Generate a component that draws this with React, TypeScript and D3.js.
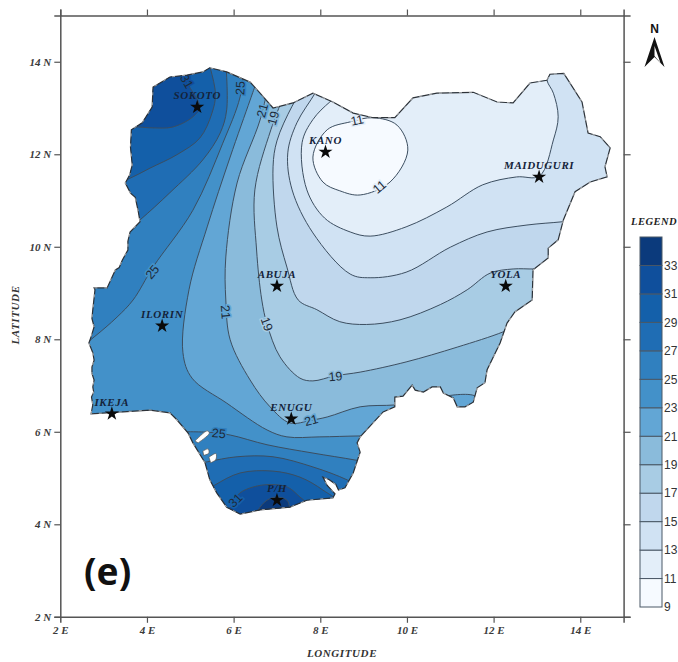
import { useEffect, useRef } from 'react';
import * as d3 from 'd3';

type Pt = [number, number];

const lonTicks = [2, 4, 6, 8, 10, 12, 14];
const latTicks = [2, 4, 6, 8, 10, 12, 14];
const legendTicks = [9, 11, 13, 15, 17, 19, 21, 23, 25, 27, 29, 31, 33];

// band colours, from the 9-11 band up to 33-35
const bandColors = ['#f6faff', '#e3eef9', '#d0e2f3', '#c0d7ed', '#a8cce4', '#8abbdb', '#62a6d5', '#4391c9', '#3080bf', '#1f6db4', '#1460aa', '#0f4f9c', '#0b3a7c'];
const bandOf = (v: number) => bandColors[Math.floor((v - 9) / 2)];

const border: Pt[] = [
  [2.71, 6.39], [2.75, 6.58], [2.72, 6.75], [2.77, 6.86], [2.75, 6.97], [2.78, 7.12], [2.73, 7.26], [2.73, 7.4], [2.78, 7.55], [2.75, 7.71], [2.66, 7.92], [2.72, 8.08], [2.78, 8.27], [2.73, 8.45], [2.75, 8.64], [2.8, 9.07], [2.78, 9.11],
  [3.08, 9.11], [3.27, 9.5], [3.36, 9.55], [3.43, 9.71], [3.56, 9.93], [3.56, 10.12], [3.61, 10.32], [3.84, 10.54], [3.8, 10.76], [3.73, 11.07], [3.62, 11.16], [3.5, 11.38], [3.6, 11.55], [3.66, 11.77], [3.62, 12.15], [3.64, 12.53], [3.89, 12.68],
  [4.12, 13.02], [4.14, 13.45], [4.53, 13.67], [4.92, 13.71], [5.29, 13.78], [5.45, 13.87], [5.84, 13.78], [6.38, 13.56], [6.61, 13.32], [6.91, 13.0],
  [7.37, 13.11], [7.83, 13.32], [8.29, 13.13], [8.76, 12.89], [9.22, 12.79], [9.72, 12.79], [10.14, 13.22], [10.69, 13.32], [11.53, 13.34], [12.08, 13.13],
  [12.45, 13.11], [12.84, 13.54], [13.23, 13.6], [13.3, 13.73], [13.62, 13.75], [14.04, 13.13], [14.18, 12.46], [14.46, 12.38], [14.69, 12.14], [14.57, 11.73],
  [14.62, 11.51], [14.23, 11.4], [13.88, 11.19], [13.61, 10.58], [13.49, 10.15], [13.26, 9.97], [13.26, 9.76], [12.91, 9.5], [12.89, 8.85], [12.49, 8.59],
  [12.31, 8.35], [12.15, 7.92], [11.85, 7.34], [11.8, 7.06], [11.62, 6.95], [11.53, 6.64], [11.34, 6.54], [11.16, 6.54], [11.07, 6.73], [10.84, 6.84],
  [10.77, 6.97], [10.58, 6.97], [10.38, 6.86], [10.19, 6.9], [10.12, 7.01], [9.91, 6.77], [9.72, 6.75], [9.72, 6.54], [9.45, 6.43], [8.92, 5.89], [8.85, 5.76],
  [8.92, 5.56], [8.76, 5.11], [8.57, 4.79], [8.42, 4.74], [8.36, 4.86], [8.2, 4.97], [8.06, 5.02], [8.16, 4.84], [8.34, 4.66], [8.29, 4.57], [7.69, 4.52], [7.3, 4.37], [6.61, 4.31], [6.15, 4.22], [5.84, 4.37], [5.61, 4.68], [5.45, 4.96],
  [5.34, 5.33], [5.06, 5.76], [4.95, 5.97], [4.69, 6.26], [4.53, 6.41], [4.07, 6.47], [3.45, 6.43],
];

// creeks that cut into the coast
const creeks: Pt[][] = [
  [[5.11, 5.8], [5.39, 6.02], [5.44, 5.97], [5.18, 5.76]],
  [[5.29, 5.58], [5.41, 5.63], [5.43, 5.54], [5.31, 5.49]],
  [[5.43, 5.45], [5.59, 5.53], [5.59, 5.4], [5.47, 5.33]],
];

// isolines, each runs past the border so it can be closed outside the country
const line23: Pt[] = [[6.5, 13.49], [6.38, 13.17], [5.92, 11.94], [5.39, 10.43], [4.97, 9.07], [4.83, 7.71], [5.04, 7.16], [5.84, 6.62], [6.77, 6.04], [7.23, 5.89], [7.99, 5.89], [8.92, 5.91], [9.84, 5.91]];
const line21: Pt[] = [[6.8, 13.49], [6.61, 12.74], [6.08, 11.38], [5.82, 9.78], [5.82, 8.85], [5.92, 7.99], [6.38, 7.12], [6.84, 6.54], [7.3, 6.19], [7.79, 6.25], [8.16, 6.32], [8.92, 6.54], [9.72, 6.58], [10.19, 6.64]];
const line19: Pt[] = [[7.19, 13.34], [6.86, 12.53], [6.49, 11.23], [6.53, 9.93], [6.65, 8.85], [6.77, 8.33], [7.07, 7.62], [7.53, 7.16], [7.83, 7.1], [8.34, 7.21], [8.92, 7.29], [9.98, 7.51], [11.16, 7.83], [12.22, 8.16], [12.72, 8.38]];
const line17: Pt[] = [[7.65, 13.49], [7.35, 13.04], [7.0, 12.29], [6.91, 11.73], [7.0, 10.43], [7.23, 9.56], [7.49, 8.85], [7.92, 8.64], [8.45, 8.38], [9.07, 8.32], [9.84, 8.42], [10.77, 8.75], [11.39, 9.07], [11.92, 9.43], [12.45, 9.52], [12.94, 9.52], [13.42, 9.54]];
const line15: Pt[] = [[8.04, 13.6], [7.88, 13.32], [7.46, 12.68], [7.25, 12.03], [7.35, 11.23], [7.83, 10.3], [8.69, 9.41], [9.15, 9.33], [9.98, 9.45], [11.0, 9.99], [11.85, 10.32], [12.77, 10.47], [13.58, 10.54], [14.11, 10.6]];
const line13: Pt[] = [[8.57, 13.36], [8.22, 13.13], [7.83, 12.75], [7.58, 12.25], [7.69, 11.23], [8.1, 10.62], [8.69, 10.32], [9.15, 10.23], [9.98, 10.43], [10.92, 10.86], [11.75, 11.34], [12.53, 11.51], [13.06, 11.53], [13.38, 12.31], [13.49, 12.81], [13.38, 13.32], [13.23, 13.6], [13.18, 14.2]];
const line11: Pt[] = [[8.69, 12.7], [8.16, 12.53], [7.83, 11.94], [8.06, 11.4], [8.45, 11.21], [8.92, 11.12], [9.61, 11.4], [10.02, 12.09], [9.77, 12.63], [9.22, 12.79]];
const patch21: Pt[] = [[10.88, 6.77], [11.58, 6.77], [11.8, 6.36], [10.88, 6.36]];

const north25: Pt[] = [[6.26, 14.04], [6.15, 13.24], [5.75, 12.24], [5.06, 10.79], [4.14, 9.56], [3.68, 8.85], [3.31, 8.48], [2.78, 8.05], [2.22, 7.66]];
const north27: Pt[] = [[5.81, 14.14], [5.84, 12.96], [5.69, 12.46], [5.29, 11.88], [4.53, 11.17], [3.84, 10.58], [3.27, 10.15]];
const north29: Pt[] = [[5.34, 14.25], [5.58, 13.32], [5.5, 12.89], [5.22, 12.35], [4.69, 11.99], [4.07, 11.7], [3.54, 11.45], [2.92, 11.24]];
const north31: Pt[] = [[4.72, 14.04], [4.92, 13.56], [5.22, 13.02], [5.06, 12.81], [4.6, 12.59], [4.14, 12.57], [3.8, 12.59], [3.27, 12.61]];

const south25: Pt[] = [[4.65, 6.0], [5.41, 5.99], [5.92, 5.93], [6.77, 5.72], [7.83, 5.54], [8.8, 5.39], [9.38, 5.28]];
const south27: Pt[] = [[4.99, 5.27], [5.39, 5.35], [6.08, 5.46], [6.91, 5.46], [7.83, 5.24], [8.62, 4.96], [9.03, 4.74]];
const south29: Pt[] = [[5.22, 4.63], [5.57, 4.85], [6.15, 5.11], [6.91, 5.15], [7.53, 5.02], [8.06, 4.74], [8.45, 4.42]];
const south31: Pt[] = [[5.8, 4.09], [5.92, 4.37], [6.15, 4.68], [6.68, 4.85], [7.23, 4.81], [7.53, 4.59], [7.69, 4.46], [7.88, 4.2]];
const south33: Pt[] = [[6.5, 4.09], [6.57, 4.31], [6.77, 4.52], [7.0, 4.59], [7.23, 4.52], [7.3, 4.35], [7.41, 4.09]];

const isoLabels: { lon: number; lat: number; v: number; rot: number; band: number }[] = [
  { lon: 6.15, lat: 13.43, v: 25, rot: -87, band: 25 },
  { lon: 6.66, lat: 12.95, v: 21, rot: -75, band: 21 },
  { lon: 6.91, lat: 12.78, v: 19, rot: -75, band: 19 },
  { lon: 4.92, lat: 13.58, v: 31, rot: 60, band: 31 },
  { lon: 4.12, lat: 9.46, v: 25, rot: -50, band: 23 },
  { lon: 8.85, lat: 12.74, v: 11, rot: -12, band: 11 },
  { lon: 9.36, lat: 11.3, v: 11, rot: -40, band: 11 },
  { lon: 5.82, lat: 8.59, v: 21, rot: 85, band: 21 },
  { lon: 6.77, lat: 8.33, v: 19, rot: 70, band: 17 },
  { lon: 8.35, lat: 7.2, v: 19, rot: -5, band: 19 },
  { lon: 7.79, lat: 6.25, v: 21, rot: -15, band: 21 },
  { lon: 5.66, lat: 5.97, v: 25, rot: 5, band: 25 },
  { lon: 6.04, lat: 4.52, v: 31, rot: -45, band: 29 },
];

const cities: { name: string; lon: number; lat: number }[] = [
  { name: 'SOKOTO', lon: 5.16, lat: 13.02 },
  { name: 'KANO', lon: 8.12, lat: 12.05 },
  { name: 'MAIDUGURI', lon: 13.05, lat: 11.51 },
  { name: 'YOLA', lon: 12.28, lat: 9.15 },
  { name: 'ABUJA', lon: 7.0, lat: 9.15 },
  { name: 'ILORIN', lon: 4.35, lat: 8.29 },
  { name: 'ENUGU', lon: 7.33, lat: 6.28 },
  { name: 'IKEJA', lon: 3.19, lat: 6.39 },
  { name: 'P/H', lon: 7.0, lat: 4.52 },
];

const EAST = 16;
const WEST = 1.2;
const TOP = 14.7;
const BOTTOM = 3;

const closeNE = (p: Pt[]): Pt[] => [...p, [EAST, p[p.length - 1][1]], [EAST, TOP], [p[0][0], TOP]];
const closeNW = (p: Pt[]): Pt[] => [...p, [WEST, p[p.length - 1][1]], [WEST, TOP], [p[0][0], TOP]];
const closeS = (p: Pt[]): Pt[] => [...p, [p[p.length - 1][0], BOTTOM], [p[0][0], BOTTOM]];

const serifLabel = '"Liberation Serif", serif';

export default function App() {
  const ref = useRef<SVGSVGElement>(null);

  useEffect(() => {
    const svg = d3.select(ref.current);
    svg.selectAll('*').remove();

    const x = d3.scaleLinear().domain([2, 15]).range([60.3, 623.6]);
    const y = d3.scaleLinear().domain([2, 15]).range([616.8, 15.5]);
    const legendY = d3.scaleLinear().domain([9, 35]).range([607, 237]);

    const toXY = (p: Pt): [number, number] => [x(p[0]), y(p[1])];
    const smooth = d3.line<Pt>().x((d) => x(d[0])).y((d) => y(d[1])).curve(d3.curveCatmullRom.alpha(0.5));
    const smoothClosed = d3.line<Pt>().x((d) => x(d[0])).y((d) => y(d[1])).curve(d3.curveCatmullRomClosed.alpha(0.5));
    const straight = d3.line<Pt>().x((d) => x(d[0])).y((d) => y(d[1]));

    svg.append('rect').attr('width', 678).attr('height', 662).attr('fill', '#fff');

    svg.append('clipPath').attr('id', 'country').append('path').attr('d', straight(border) + 'Z');

    // painted from the 23-25 base outwards, every polygon is clipped to the country
    const map = svg.append('g').attr('clip-path', 'url(#country)');
    map.append('path').attr('d', straight(border) + 'Z').attr('fill', bandOf(23));

    const zones: { d: string | null; band: number }[] = [
      { d: smooth(closeNE(line23)) + 'Z', band: 21 },
      { d: smooth(closeNE(line21)) + 'Z', band: 19 },
      { d: smooth(patch21) + 'Z', band: 21 },
      { d: smooth(closeNE(line19)) + 'Z', band: 17 },
      { d: smooth(closeNE(line17)) + 'Z', band: 15 },
      { d: smooth(closeNE(line15)) + 'Z', band: 13 },
      { d: smooth(line13) + 'Z', band: 11 },
      { d: smoothClosed(line11), band: 9 },
      { d: smooth(closeNW(north25)) + 'Z', band: 25 },
      { d: smooth(closeNW(north27)) + 'Z', band: 27 },
      { d: smooth(closeNW(north29)) + 'Z', band: 29 },
      { d: smooth(closeNW(north31)) + 'Z', band: 31 },
      { d: smooth(closeS(south25)) + 'Z', band: 25 },
      { d: smooth(closeS(south27)) + 'Z', band: 27 },
      { d: smooth(closeS(south29)) + 'Z', band: 29 },
      { d: smooth(closeS(south31)) + 'Z', band: 31 },
      { d: smooth(closeS(south33)) + 'Z', band: 33 },
    ];
    map.selectAll('.zone')
      .data(zones)
      .enter()
      .append('path')
      .attr('class', 'zone')
      .attr('d', (d) => d.d)
      .attr('fill', (d) => bandOf(d.band))
      .attr('stroke', '#3c4e60')
      .attr('stroke-width', 1);

    // label halo in the local colour makes the gap in the isoline
    map.selectAll('.iso')
      .data(isoLabels)
      .enter()
      .append('text')
      .attr('class', 'iso')
      .attr('transform', (d) => `translate(${x(d.lon)},${y(d.lat)}) rotate(${d.rot})`)
      .attr('text-anchor', 'middle')
      .attr('dy', '0.36em')
      .attr('font-family', '"Liberation Sans", sans-serif')
      .attr('font-size', 12.5)
      .attr('fill', '#1e2b3a')
      .attr('stroke', (d) => bandOf(d.band))
      .attr('stroke-width', 3)
      .attr('paint-order', 'stroke')
      .text((d) => d.v);

    svg.selectAll('.creek')
      .data(creeks)
      .enter()
      .append('path')
      .attr('class', 'creek')
      .attr('d', (d) => smooth(d) + 'Z')
      .attr('fill', '#fff')
      .attr('stroke', '#555')
      .attr('stroke-width', 0.7);

    svg.append('path')
      .attr('d', straight(border) + 'Z')
      .attr('fill', 'none')
      .attr('stroke', '#2d3238')
      .attr('stroke-width', 1.2);
    // the scanned coast line has small white breaks in it
    svg.append('path')
      .attr('d', straight(border) + 'Z')
      .attr('fill', 'none')
      .attr('stroke', '#fff')
      .attr('stroke-width', 0.7)
      .attr('stroke-dasharray', '3 7')
      .attr('opacity', 0.8);

    // frame and axes
    const axisStyle = (g: d3.Selection<SVGGElement, unknown, null, undefined>) => {
      g.selectAll('.domain').attr('stroke', '#555').attr('stroke-width', 1.5);
      g.selectAll('.tick line').attr('stroke', '#555').attr('stroke-width', 1.2);
      g.selectAll('.tick text')
        .attr('font-family', serifLabel)
        .attr('font-style', 'italic')
        .attr('font-weight', 'bold')
        .attr('font-size', 11)
        .attr('fill', '#3a3a3a');
    };
    const bottomAxis = svg.append('g').attr('transform', `translate(0,${y(2)})`)
      .call(d3.axisBottom(x).tickValues(lonTicks).tickSizeOuter(0).tickSize(6).tickFormat((d) => `${d} E`))
      .call(axisStyle as never);
    bottomAxis.selectAll('.tick line').filter((d) => d === 2).remove();
    svg.append('g').attr('transform', `translate(0,${y(15)})`)
      .call(d3.axisTop(x).tickValues(lonTicks).tickSizeOuter(0).tickSize(6).tickFormat(() => ''))
      .call(axisStyle as never);
    svg.append('g').attr('transform', `translate(${x(2)},0)`)
      .call(d3.axisLeft(y).tickValues(latTicks).tickSizeOuter(0).tickSize(6).tickFormat((d) => `${d} N`))
      .call(axisStyle as never);
    svg.append('g').attr('transform', `translate(${x(15)},0)`)
      .call(d3.axisRight(y).tickValues(latTicks).tickSizeOuter(0).tickSize(7).tickFormat(() => ''))
      .call(axisStyle as never);

    const titleStyle = { family: serifLabel, size: 11 };
    svg.append('text').attr('x', 342).attr('y', 657).attr('text-anchor', 'middle')
      .attr('font-family', titleStyle.family).attr('font-size', titleStyle.size).attr('font-weight', 'bold').attr('font-style', 'italic')
      .attr('letter-spacing', 0.6).attr('fill', '#333').text('LONGITUDE');
    svg.append('text').attr('transform', 'translate(19,315) rotate(-90)').attr('text-anchor', 'middle')
      .attr('font-family', titleStyle.family).attr('font-size', titleStyle.size).attr('font-weight', 'bold').attr('font-style', 'italic')
      .attr('letter-spacing', 0.6).attr('fill', '#333').text('LATITUDE');

    // cities
    const star = d3.symbol().type(d3.symbolStar).size(62);
    const cityG = svg.selectAll('.city').data(cities).enter().append('g').attr('class', 'city')
      .attr('transform', (d) => `translate(${toXY([d.lon, d.lat]).join(',')})`);
    cityG.append('path').attr('d', star()).attr('fill', '#0a0a0a');
    cityG.append('text')
      .attr('y', -8)
      .attr('text-anchor', 'middle')
      .attr('font-family', serifLabel)
      .attr('font-style', 'italic')
      .attr('font-weight', 'bold')
      .attr('font-size', 11)
      .attr('letter-spacing', 0.6)
      .attr('fill', '#14233a')
      .text((d) => d.name);

    // colour bar
    const legendBands = legendTicks.map((d, i) => ({ from: d, to: d + 2, color: bandColors[i] }));
    svg.selectAll('.band')
      .data(legendBands)
      .enter()
      .append('rect')
      .attr('class', 'band')
      .attr('x', 640)
      .attr('width', 22)
      .attr('y', (d) => legendY(d.to))
      .attr('height', (d) => legendY(d.from) - legendY(d.to))
      .attr('fill', (d) => d.color)
      .attr('stroke', '#4a5866')
      .attr('stroke-width', 1);
    svg.selectAll('.band-label')
      .data(legendTicks)
      .enter()
      .append('text')
      .attr('class', 'band-label')
      .attr('x', 664)
      .attr('y', (d) => legendY(d))
      .attr('dy', '0.36em')
      .attr('font-family', '"Liberation Sans", sans-serif')
      .attr('font-size', 12)
      .attr('fill', '#333')
      .text((d) => d);
    svg.append('text').attr('x', 631).attr('y', 225)
      .attr('font-family', serifLabel).attr('font-size', 10.5).attr('font-weight', 'bold').attr('font-style', 'italic')
      .attr('letter-spacing', 0.5).attr('fill', '#222').text('LEGEND');

    // north arrow
    const arrow = svg.append('g').attr('transform', 'translate(654.5,37)');
    arrow.append('text').attr('x', 0).attr('y', -4).attr('text-anchor', 'middle')
      .attr('font-family', '"Liberation Sans", sans-serif').attr('font-size', 12).attr('font-weight', 'bold').attr('fill', '#111').text('N');
    arrow.append('path').attr('d', 'M0,0L-10,30L0,20L10,30Z').attr('fill', '#111');
    arrow.append('path').attr('d', 'M0,9L6,26L0,19Z').attr('fill', '#fff');

    svg.append('text').attr('x', 84).attr('y', 585)
      .attr('font-family', '"Noto Sans", sans-serif').attr('font-size', 37).attr('font-weight', 'bold').attr('fill', '#111').text('(e)');
  }, []);

  return <svg ref={ref} width={678} height={662} style={{ position: 'absolute', left: 0, top: 0 }}></svg>;
}
